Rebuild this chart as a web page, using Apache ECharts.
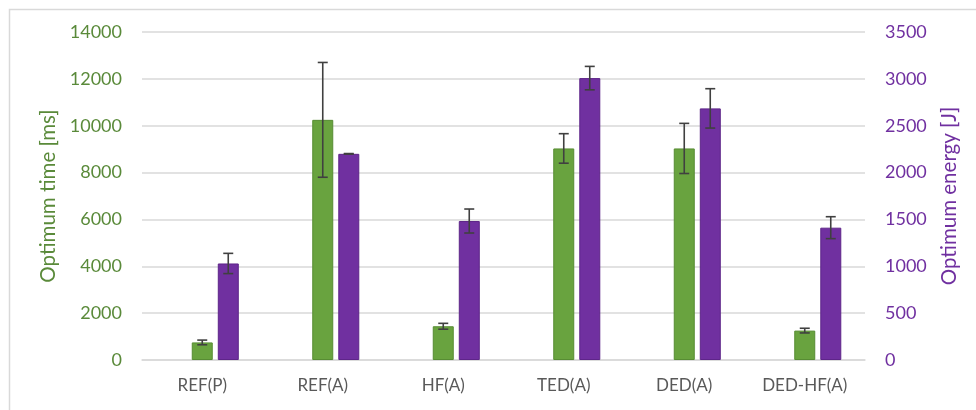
<!DOCTYPE html>
<html><head><meta charset="utf-8">
<script src="https://cdn.jsdelivr.net/npm/echarts@6/dist/echarts.min.js"></script>
<style>html,body{margin:0;padding:0;background:#fff}#c{width:976px;height:410px}</style>
</head><body><div id="c"></div>
<script>
const categories = ['REF(P)', 'REF(A)', 'HF(A)', 'TED(A)', 'DED(A)', 'DED-HF(A)'];
const timeValues = [750, 10250, 1440, 9030, 9030, 1255];
const timeErrors = [100, 2450, 125, 630, 1070, 100];
const energyValues = [1030, 2200, 1483, 3008, 2685, 1412];
const energyErrors = [108, 3, 128, 125, 210, 117];
const timeTicks = [0, 2000, 4000, 6000, 8000, 10000, 12000, 14000];
const energyTicks = [0, 500, 1000, 1500, 2000, 2500, 3000, 3500];

const FONT = 'Lato';
const chart = echarts.init(document.getElementById('c'));

function errItem(offset) {
  return function (params, api) {
    const x = api.value(0), lo = api.value(1), hi = api.value(2);
    const pHi = api.coord([x, hi]);
    const pLo = api.coord([x, lo]);
    const cx = pHi[0] + offset;
    const cap = 5;
    const style = { stroke: '#404040', lineWidth: 1.6 };
    return {
      type: 'group',
      children: [
        { type: 'line', shape: { x1: cx, y1: pHi[1], x2: cx, y2: pLo[1] }, style },
        { type: 'line', shape: { x1: cx - cap, y1: pHi[1], x2: cx + cap, y2: pHi[1] }, style },
        { type: 'line', shape: { x1: cx - cap, y1: pLo[1], x2: cx + cap, y2: pLo[1] }, style }
      ]
    };
  };
}

const timeErrData = categories.map((c, i) => [i, timeValues[i] - timeErrors[i], timeValues[i] + timeErrors[i]]);
const energyErrData = categories.map((c, i) => [i, energyValues[i] - energyErrors[i], energyValues[i] + energyErrors[i]]);

chart.setOption({
  animation: false,
  textStyle: { fontFamily: FONT },
  graphic: [{
    type: 'rect', left: 7, top: 7, shape: { width: 980, height: 420 },
    style: { fill: 'none', stroke: '#d9d9d9', lineWidth: 1.5 }, z: -1
  }],
  grid: { left: 142, right: 111, top: 32, bottom: 50 },
  xAxis: {
    type: 'category', data: categories,
    axisLine: { show: true, lineStyle: { color: '#d9d9d9', width: 1.5 } },
    axisTick: { show: false },
    axisLabel: { color: '#595959', fontSize: 17, fontFamily: FONT, margin: 17 }
  },
  yAxis: [{
    type: 'value', min: 0, max: 14000, interval: 2000,
    name: 'Optimum time [ms]', nameLocation: 'middle', nameGap: 76, nameRotate: 90,
    nameTextStyle: { color: '#5A8A3A', fontSize: 20.5, fontFamily: FONT },
    axisLine: { show: false }, axisTick: { show: false },
    axisLabel: { color: '#5A8A3A', fontSize: 18, fontFamily: FONT, margin: 20,
      formatter: v => String(timeTicks.includes(v) ? v : v) },
    splitLine: { lineStyle: { color: '#d9d9d9', width: 1.5 } }
  }, {
    type: 'value', min: 0, max: 3500, interval: 500, position: 'right',
    name: 'Optimum energy [J]', nameLocation: 'middle', nameGap: 74, nameRotate: 90,
    nameTextStyle: { color: '#7030A0', fontSize: 20.5, fontFamily: FONT },
    axisLine: { show: false }, axisTick: { show: false },
    axisLabel: { color: '#7030A0', fontSize: 18, fontFamily: FONT, margin: 20,
      formatter: v => String(energyTicks.includes(v) ? v : v) },
    splitLine: { show: false }
  }],
  series: [{
    type: 'bar', name: 'spacer', yAxisIndex: 0, data: categories.map(() => '-'),
    barWidth: 21, barGap: '24%'
  }, {
    type: 'bar', name: 'time', yAxisIndex: 0, data: timeValues,
    barWidth: 21, barGap: '24%',
    itemStyle: { color: '#69A33F', borderColor: '#578C33', borderWidth: 1 }
  }, {
    type: 'bar', name: 'energy', yAxisIndex: 1, data: energyValues,
    barWidth: 21, barGap: '24%',
    itemStyle: { color: '#7030A0', borderColor: '#5E2589', borderWidth: 1 }
  }, {
    type: 'custom', yAxisIndex: 0, data: timeErrData, renderItem: errItem(0), z: 5,
    encode: { x: 0, y: [1, 2] }
  }, {
    type: 'custom', yAxisIndex: 1, data: energyErrData, renderItem: errItem(26), z: 5,
    encode: { x: 0, y: [1, 2] }
  }]
});
</script></body></html>
